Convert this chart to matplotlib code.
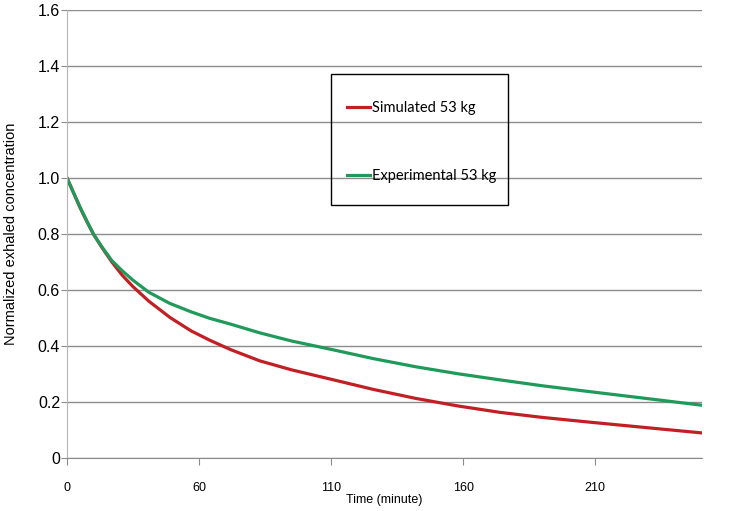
import matplotlib
matplotlib.use('Agg')
import matplotlib.pyplot as plt
from matplotlib.patches import Rectangle

# Data (x in axis units, ticks relabelled as in the original)
time = [0, 2.5, 5, 7.5, 10, 13, 17, 21, 25, 31, 39, 47, 54, 62, 73, 85, 101,
        116, 132, 148, 164, 180, 198, 220, 240]
simulated = [1.0, 0.947, 0.893, 0.845, 0.80, 0.755, 0.70, 0.652, 0.612, 0.560, 0.502,
             0.454, 0.421, 0.387, 0.347, 0.315, 0.279, 0.245, 0.213, 0.186, 0.163,
             0.145, 0.128, 0.108, 0.090]
experimental = [1.0, 0.947, 0.895, 0.847, 0.80, 0.757, 0.705, 0.668, 0.635, 0.592, 0.552,
                0.522, 0.499, 0.478, 0.447, 0.418, 0.386, 0.355, 0.326, 0.301, 0.279,
                0.258, 0.237, 0.212, 0.189]

x_tick_pos = [0, 50, 100, 150, 200]
x_tick_labels = ['0', '60', '110', '160', '210']
y_ticks = [0, 0.2, 0.4, 0.6, 0.8, 1.0, 1.2, 1.4, 1.6]
y_tick_labels = ['0', '0.2', '0.4', '0.6', '0.8', '1.0', '1.2', '1.4', '1.6']

fig = plt.figure(figsize=(7.51, 5.11), dpi=100)
ax = fig.add_axes([0.0892, 0.1037, 0.8456, 0.8767])

grid_col = '#8c8c8c'
ax.set_ylim(0, 1.6)
ax.set_xlim(0, 240.5)
ax.set_yticks(y_ticks)
ax.set_yticklabels(y_tick_labels, fontsize=11.5, family='Liberation Sans')
ax.set_xticks(x_tick_pos)
ax.set_xticklabels(x_tick_labels, fontsize=9, family='Liberation Sans')
ax.yaxis.grid(True, color=grid_col, linewidth=1)
ax.set_axisbelow(True)

for s in ['top', 'right']:
    ax.spines[s].set_visible(False)
ax.spines['left'].set_color('#b4b4b4')
ax.spines['bottom'].set_color(grid_col)
ax.tick_params(axis='y', length=4, color=grid_col, pad=1)
ax.tick_params(axis='x', length=5, color=grid_col, pad=12)

ax.plot(time, simulated, color='#c21f24', linewidth=2.3, label='Simulated 53 kg')
ax.plot(time, experimental, color='#1f9a5a', linewidth=2.3, label='Experimental 53 kg')

ax.set_ylabel('Normalized exhaled concentration', fontsize=10.5, family='Liberation Sans')
ax.yaxis.set_label_coords(-0.077, 0.5)
ax.set_xlabel('Time (minute)', fontsize=9, family='Liberation Sans')
ax.xaxis.set_label_coords(0.5, -0.08)

# legend box
ax.add_patch(Rectangle((0.4157, 0.5647), 0.2788, 0.2923, transform=ax.transAxes,
                       fill=False, edgecolor='black', linewidth=1, zorder=5, clip_on=False))
leg = ax.legend(loc='upper left', bbox_to_anchor=(0.441, 0.797), frameon=False,
                prop={'family': 'Lato', 'size': 10.5}, borderpad=0, borderaxespad=0,
                labelspacing=3.7, handlelength=1.6, handletextpad=0.1)

fig.savefig('out.png', dpi=100)
